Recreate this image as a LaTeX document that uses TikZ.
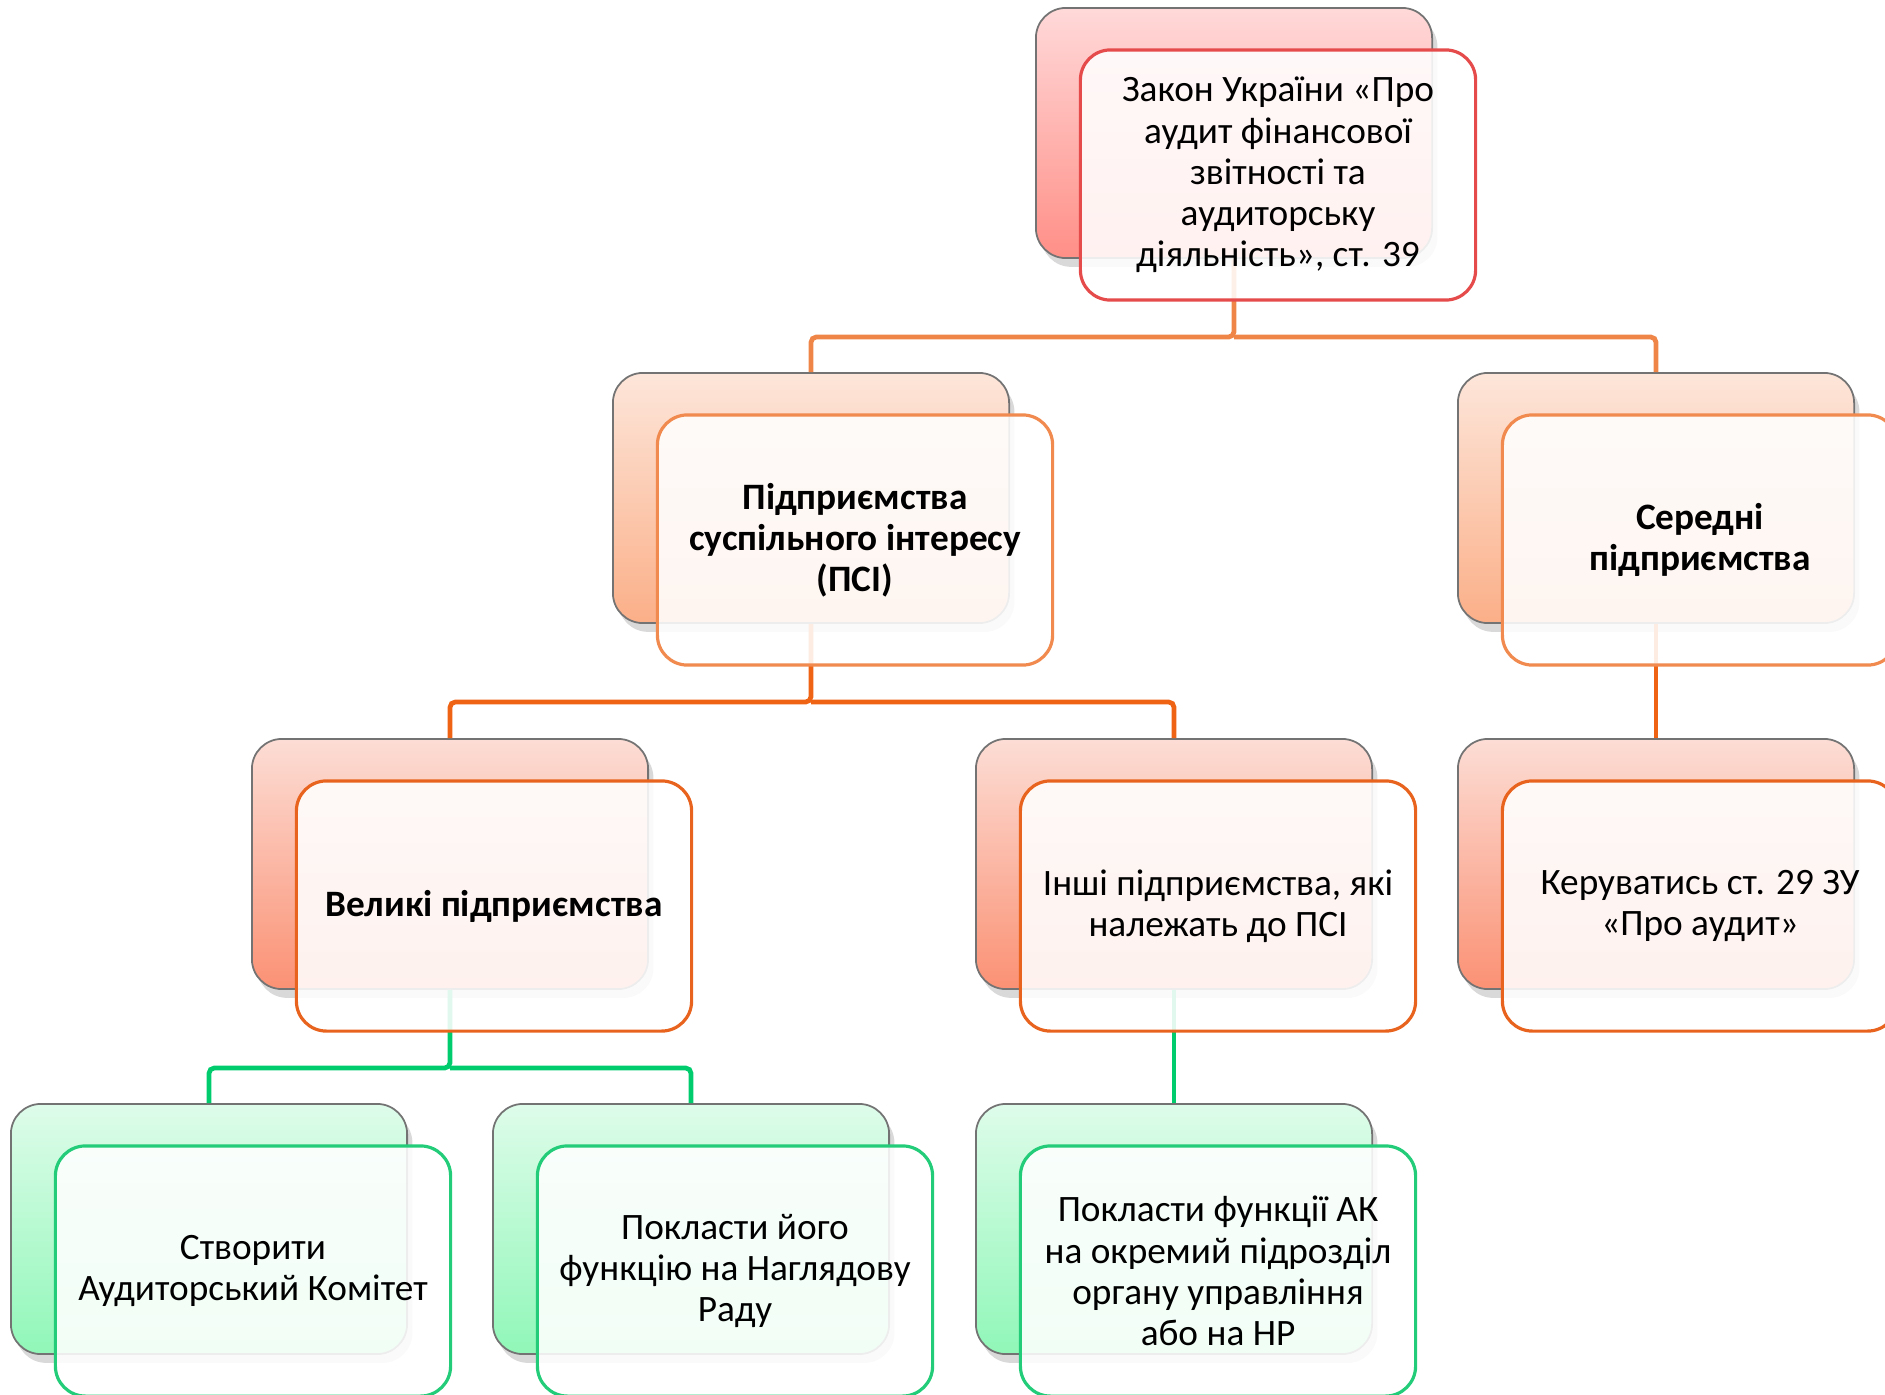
\documentclass[tikz,border=0pt]{standalone}
\usepackage{fontspec}
\setmainfont{Carlito}
\usetikzlibrary{positioning, shadows}

\definecolor{lawTop}{HTML}{FFD9D9}
\definecolor{lawBot}{HTML}{FF8F87}
\definecolor{lawEdge}{HTML}{E64B4B}
\definecolor{psiTop}{HTML}{FDE6DA}
\definecolor{psiBot}{HTML}{FBAF88}
\definecolor{psiEdge}{HTML}{F08A4F}
\definecolor{bigTop}{HTML}{FCDDD5}
\definecolor{bigBot}{HTML}{FB9174}
\definecolor{bigEdge}{HTML}{E8641E}
\definecolor{actTop}{HTML}{DEFCEA}
\definecolor{actBot}{HTML}{90F7B8}
\definecolor{actEdge}{HTML}{22CC78}
\definecolor{busA}{HTML}{EF8547}
\definecolor{busB}{HTML}{EE6414}
\definecolor{busC}{HTML}{00CC6E}

\begin{document}
\begin{tikzpicture}[x=0.01cm, y=-0.01cm,
    back/.style={rectangle, rounded corners=0.3cm, draw=black!55, line width=0.5pt,
                 minimum width=3.96cm, minimum height=2.5cm, inner sep=0pt,
                 drop shadow={shadow xshift=1.5pt, shadow yshift=-2.5pt, opacity=0.3}},
    front/.style={rectangle, rounded corners=0.3cm, line width=0.9pt,
                  fill=white, fill opacity=0.88, text opacity=1,
                  minimum width=3.95cm, minimum height=2.5cm, inner sep=0pt,
                  align=center, font=\fontsize{10.6}{11.7}\selectfont},
    strong/.style={font=\fontsize{10.6}{11.7}\selectfont\bfseries},
    lawcard/.style={back, top color=lawTop, bottom color=lawBot},
    psicard/.style={back, top color=psiTop, bottom color=psiBot},
    bigcard/.style={back, top color=bigTop, bottom color=bigBot},
    actcard/.style={back, top color=actTop, bottom color=actBot},
    link/.style={line width=1.35pt, rounded corners=1.5pt},
  ]

  \useasboundingbox (0,0) rectangle (1885,1394);
  \clip (0,0) rectangle (1885,1394);

  % Row centres of the back cards, and heights of the horizontal buses
  \def\yOne{133}
  \def\yTwo{498}
  \def\yThree{864}
  \def\yFour{1229}
  \coordinate (busA) at (0,337);
  \coordinate (busB) at (0,702);
  \coordinate (busC) at (0,1068);

  % ── back cards ──────────────────────────────────────────────────────
  \node[lawcard] (lawB) at (1234,\yOne) {};

  \node[psicard] (psiB) at (811,\yTwo)  {};
  \node[psicard] (midB) at (1656,\yTwo) {};

  \node[bigcard] (bigB)  at (450,\yThree)  {};
  \node[bigcard] (restB) at (1174,\yThree) {};
  \node[bigcard] (ruleB) at (1656,\yThree) {};

  \node[actcard] (acB)  at (209,\yFour)  {};
  \node[actcard] (nrB)  at (691,\yFour)  {};
  \node[actcard] (depB) at (1174,\yFour) {};

  % ── connectors ──────────────────────────────────────────────────────
  \draw[link, busA] (lawB.south) -- (lawB.south |- busA) -| (psiB.north);
  \draw[link, busA] (lawB.south |- busA) -| (midB.north);

  \draw[link, busB] (psiB.south) -- (psiB.south |- busB) -| (bigB.north);
  \draw[link, busB] (psiB.south |- busB) -| (restB.north);
  \draw[link, busB] (midB.south) -- (ruleB.north);

  \draw[link, busC] (bigB.south) -- (bigB.south |- busC) -| (acB.north);
  \draw[link, busC] (bigB.south |- busC) -| (nrB.north);
  \draw[link, busC] (restB.south) -- (depB.north);

  % ── front cards (text) ──────────────────────────────────────────────
  \node[front, draw=lawEdge] (lawF) at ([shift={(44,42)}]lawB.center)
    {Закон України «Про\\аудит фінансової\\звітності та\\аудиторську\\діяльність», ст. 39};

  \node[front, strong, draw=psiEdge] (psiF) at ([shift={(44,42)}]psiB.center)
    {Підприємства\\суспільного інтересу\\(ПСІ)};
  \node[front, strong, draw=psiEdge] (midF) at ([shift={(44,42)}]midB.center)
    {Середні\\підприємства};

  \node[front, strong, draw=bigEdge] (bigF) at ([shift={(44,42)}]bigB.center)
    {Великі підприємства};
  \node[front, draw=bigEdge] (restF) at ([shift={(44,42)}]restB.center)
    {Інші підприємства, які\\належать до ПСІ};
  \node[front, draw=bigEdge] (ruleF) at ([shift={(44,42)}]ruleB.center)
    {Керуватись ст. 29 ЗУ\\«Про аудит»};

  \node[front, draw=actEdge] (acF) at ([shift={(44,42)}]acB.center)
    {Створити\\Аудиторський Комітет};
  \node[front, draw=actEdge] (nrF) at ([shift={(44,42)}]nrB.center)
    {Покласти його\\функцію на Наглядову\\Раду};
  \node[front, draw=actEdge] (depF) at ([shift={(44,42)}]depB.center)
    {Покласти функції АК\\на окремий підрозділ\\органу управління\\або на НР};

\end{tikzpicture}
\end{document}
